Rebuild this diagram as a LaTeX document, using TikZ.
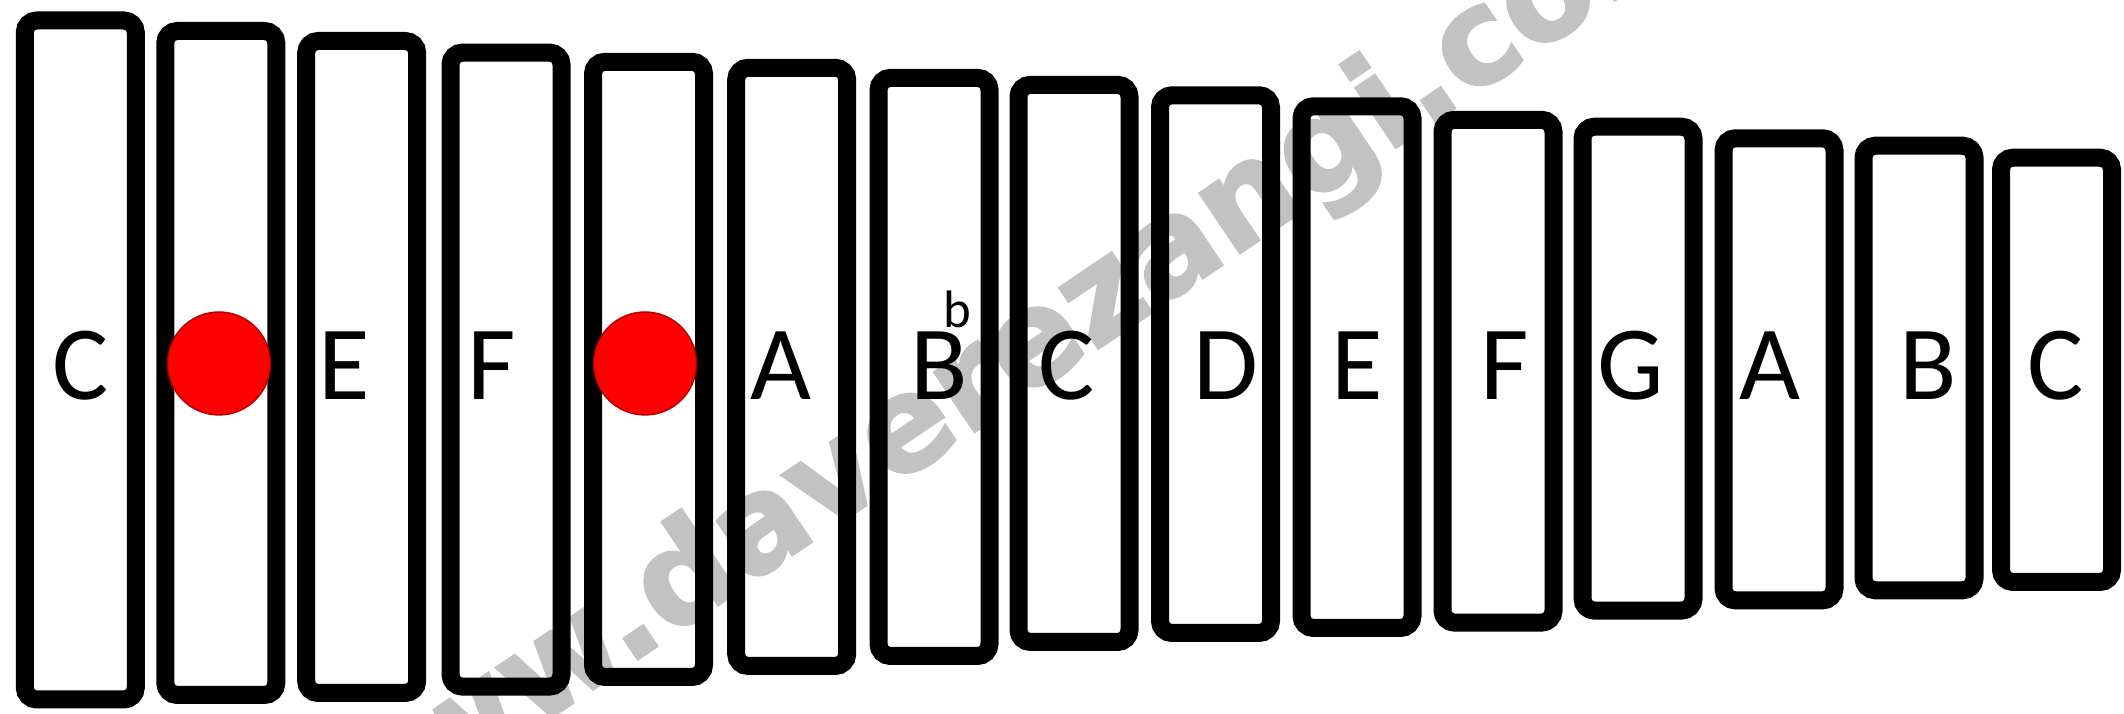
\documentclass[tikz,border=0pt]{standalone}
\usepackage{fontspec}
\setmainfont{Carlito}
\newfontfamily\markfont[FakeBold=2]{DejaVu Sans Bold}
\usetikzlibrary{positioning}

\begin{document}
\begin{tikzpicture}[
    bar/.style={
        draw,
        line width=1.8mm,
        rounded corners=1.2mm,
        minimum width=1.11cm,
        inner sep=0pt
    },
    note/.style={
        font=\fontsize{30}{36}\selectfont,
        anchor=base,
        inner sep=0pt
    },
    dot/.style={
        circle,
        fill=red,
        draw=red!70!black,
        line width=0.4pt,
        minimum size=1.03cm,
        inner sep=0pt
    }
]

\clip (0,0) rectangle (21.24,7.14);

% watermark
\node[rotate=34, anchor=base, inner sep=0pt, text=black!24,
      font=\markfont\fontsize{37.5}{45}\selectfont] (mark) at (10.25,3.16) {www.daverezangi.com};

% bars: centre x / top / bottom
\foreach \i/\x/\t/\b in {1/0.803/7.025/0.055, 2/2.208/6.92/0.10, 3/3.617/6.82/0.12,
    4/5.06/6.704/0.184, 5/6.485/6.612/0.28, 6/7.917/6.552/0.39,
    7/9.34/6.451/0.49, 8/10.74/6.382/0.63, 9/12.155/6.277/0.72,
    10/13.57/6.167/0.77, 11/14.98/6.032/0.824, 12/16.38/5.963/0.944,
    13/17.79/5.847/1.046, 14/19.19/5.773/1.147, 15/20.565/5.653/1.23}
    \node[bar, minimum height={(\t-\b)*1cm-0.18cm}] (bar\i) at (\x,{(\t+\b)/2}) {};

% note names
\foreach \i/\n/\x in {1/C/0.81, 3/E/3.44, 4/F/4.92, 6/A/7.806, 7/B/9.387,
    8/C/10.67, 9/D/12.257, 10/E/13.576, 11/F/15.045, 12/G/16.31,
    13/A/17.695, 14/B/19.28, 15/C/20.56}
    \node[note] (note\i) at (\x,3.14) {\n};
\node[note, font=\fontsize{15}{18}\selectfont] (flat) at (9.57,3.86) {b};

% missing bars
\node[dot] (dot2) at (2.19,3.505) {};
\node[dot] (dot5) at (6.45,3.505) {};

\end{tikzpicture}
\end{document}
